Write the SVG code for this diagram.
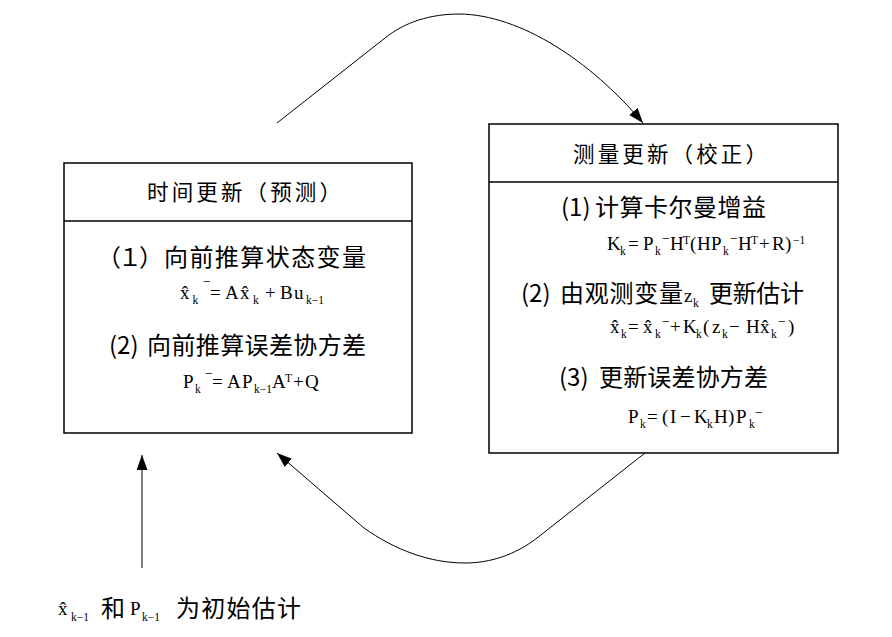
<svg xmlns="http://www.w3.org/2000/svg" width="892" height="637" viewBox="0 0 892 637">
<style>
.box{fill:none;stroke:#000;stroke-width:1.5}
.cjk{font-family:"Noto Sans CJK SC","Noto Sans",sans-serif;font-size:24px;fill:#000}
.ttl{font-size:21.5px}
.m{font-family:"Liberation Serif","DejaVu Serif",serif;font-size:19px;fill:#000}
.s{font-size:11.5px}
.bar{font-size:14px}
.con{fill:none;stroke:#000;stroke-width:1}
</style>
<defs>
<marker id="ah" markerUnits="userSpaceOnUse" markerWidth="16" markerHeight="12" refX="15" refY="5.5" orient="auto">
<path d="M0,0 L15,5.5 L0,11 z" fill="#000"/>
</marker>
</defs>
<rect width="892" height="637" fill="#fff"/>

<g id="node-time-update">
<rect class="box" x="64" y="163" width="348" height="270"/>
<line class="box" x1="64" y1="221" x2="412" y2="221"/>
<text class="cjk ttl" x="147" y="200" textLength="194" lengthAdjust="spacing">时间更新（预测）</text>
<text class="cjk" x="97" y="265.5"><tspan textLength="66" lengthAdjust="spacing">（１）</tspan><tspan x="164" textLength="202" lengthAdjust="spacing">向前推算状态变量</tspan></text>
<text class="m" y="299"><tspan x="180">x̂</tspan><tspan class="s" x="192.5" y="304">k</tspan><tspan class="bar" x="203" y="285.5">−</tspan><tspan x="210" y="299">=</tspan><tspan x="225">A</tspan><tspan x="240">x̂</tspan><tspan class="s" x="253" y="304">k</tspan><tspan x="265" y="299">+</tspan><tspan x="280">B</tspan><tspan x="294">u</tspan><tspan class="s" x="306" y="304">k−1</tspan></text>
<text class="cjk" x="109" y="353.5">(2)<tspan x="147" textLength="219" lengthAdjust="spacing">向前推算误差协方差</tspan></text>
<text class="m" y="388"><tspan x="183">P</tspan><tspan class="s" x="195" y="393">k</tspan><tspan class="bar" x="205" y="377.5">−</tspan><tspan x="212" y="388">=</tspan><tspan x="227">A</tspan><tspan x="242">P</tspan><tspan class="s" x="254" y="393">k−1</tspan><tspan x="272" y="388">A</tspan><tspan class="s" x="285" y="382">T</tspan><tspan x="293" y="388">+</tspan><tspan x="305">Q</tspan></text>
</g>

<g id="node-measurement-update">
<rect class="box" x="489" y="124" width="349" height="329"/>
<line class="box" x1="489" y1="182" x2="838" y2="182"/>
<text class="cjk ttl" x="573" y="161.5" textLength="194" lengthAdjust="spacing">测量更新（校正）</text>
<text class="cjk" x="561" y="215.5">(1)<tspan x="595" textLength="171" lengthAdjust="spacing">计算卡尔曼增益</tspan></text>
<text class="m" y="250"><tspan x="607">K</tspan><tspan class="s" x="620" y="255">k</tspan><tspan x="628" y="250">=</tspan><tspan x="643">P</tspan><tspan class="s" x="655" y="255">k</tspan><tspan class="bar" x="662" y="243">−</tspan><tspan x="670" y="250">H</tspan><tspan class="s" x="683" y="244">T</tspan><tspan x="690" y="250">(</tspan><tspan x="697">H</tspan><tspan x="711">P</tspan><tspan class="s" x="723" y="255">k</tspan><tspan class="bar" x="730" y="243">−</tspan><tspan x="738" y="250">H</tspan><tspan class="s" x="751" y="244">T</tspan><tspan x="759" y="250">+</tspan><tspan x="772">R</tspan><tspan x="785">)</tspan><tspan class="s" x="793" y="244">−1</tspan></text>
<text class="cjk" x="521" y="301.5">(2)<tspan x="560" textLength="123" lengthAdjust="spacing">由观测变量</tspan><tspan class="m" x="684" y="301.5">z</tspan><tspan class="m s" x="693" y="306.5">k</tspan><tspan x="709" y="301.5" textLength="95" lengthAdjust="spacing">更新估计</tspan></text>
<text class="m" y="333"><tspan x="610">x̂</tspan><tspan class="s" x="621" y="338">k</tspan><tspan x="628" y="333">=</tspan><tspan x="643">x̂</tspan><tspan class="s" x="655" y="338">k</tspan><tspan class="bar" x="662" y="325.5">−</tspan><tspan x="670" y="333">+</tspan><tspan x="683">K</tspan><tspan class="s" x="696" y="338">k</tspan><tspan x="703" y="333">(</tspan><tspan x="712">z</tspan><tspan class="s" x="722" y="338">k</tspan><tspan x="729" y="333">−</tspan><tspan x="746">H</tspan><tspan x="760">x̂</tspan><tspan class="s" x="771" y="338">k</tspan><tspan class="bar" x="778" y="325.5">−</tspan><tspan x="788" y="333">)</tspan></text>
<text class="cjk" x="559" y="385.5">(3)<tspan x="599" textLength="169" lengthAdjust="spacing">更新误差协方差</tspan></text>
<text class="m" y="423"><tspan x="628">P</tspan><tspan class="s" x="640" y="428">k</tspan><tspan x="647" y="423">=</tspan><tspan x="662">(</tspan><tspan x="670">I</tspan><tspan x="680">−</tspan><tspan x="694">K</tspan><tspan class="s" x="707" y="428">k</tspan><tspan x="714" y="423">H</tspan><tspan x="728">)</tspan><tspan x="736">P</tspan><tspan class="s" x="749" y="428">k</tspan><tspan class="bar" x="755" y="416.5">−</tspan></text>
</g>

<g id="node-initial-estimate">
<text class="m" y="615"><tspan x="58">x̂</tspan><tspan class="s" x="71" y="621">k−1</tspan><tspan x="130" y="615">P</tspan><tspan class="s" x="142" y="621">k−1</tspan></text>
<text class="cjk" x="101" y="617">和<tspan x="176" textLength="125" lengthAdjust="spacing">为初始估计</tspan></text>
</g>

<g id="connectors">
<path class="con" d="M277,123 L385,38 C405,22 430,14 460,14 C520,15 590,60 643,123" marker-end="url(#ah)"/>
<path class="con" d="M645,453 L537,538 C515,555 490,563 465,563 C430,563 395,550 364,528 L277,453" marker-end="url(#ah)"/>
<path class="con" d="M142,568 L142,455" marker-end="url(#ah)"/>
</g>
</svg>
